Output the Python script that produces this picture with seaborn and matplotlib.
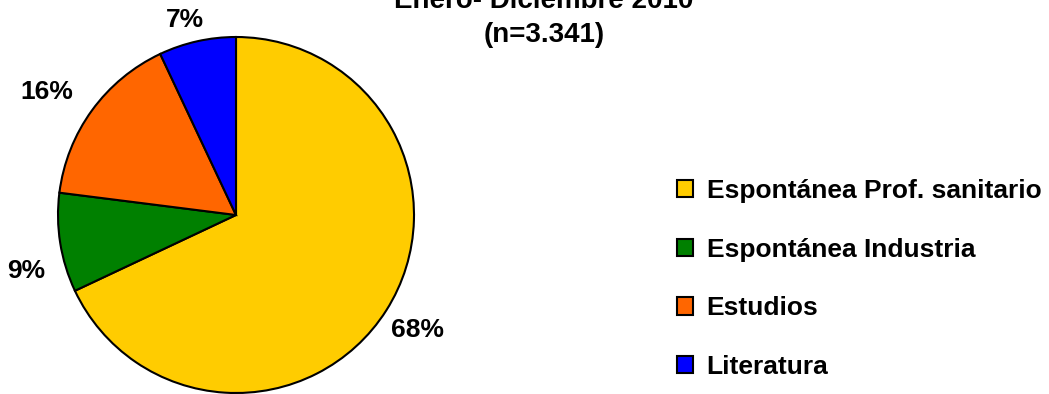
import matplotlib
matplotlib.use("Agg")
import numpy as np
import matplotlib.pyplot as plt
from matplotlib.patches import Patch
import seaborn as sns

# Data
categories = ["Espontánea Prof. sanitario", "Espontánea Industria", "Estudios", "Literatura"]
values = [68, 9, 16, 7]
colors = ["#FFCC00", "#008000", "#FF6600", "#0000FF"]
title_lines = ["Enero- Diciembre 2010", "(n=3.341)"]

# label placement style (radius in pie radii, angle shift in degrees)
label_radius = [1.21, 1.22, 1.27, 1.13]
label_shift = [0, 6, 3, 2]

sns.set_theme(style="white")
plt.rcParams["font.family"] = ["Liberation Sans", "DejaVu Sans"]
plt.rcParams["text.color"] = "black"

W, H = 1049, 394
fig = plt.figure(figsize=(W / 100, H / 100), dpi=100)
fig.patch.set_facecolor("white")

cx, cy, r = 236, 215, 178
ax = fig.add_axes([(cx - r) / W, (H - cy - r) / H, 2 * r / W, 2 * r / H])
wedges, texts, autotexts = ax.pie(
    values,
    colors=colors,
    startangle=90,
    counterclock=False,
    autopct=lambda p: f"{p:.0f}%",
    pctdistance=1.2,
    wedgeprops=dict(edgecolor="black", linewidth=1.5),
    textprops=dict(fontsize=19, fontweight="bold", color="black"),
)
for w, t, lr, sh in zip(wedges, autotexts, label_radius, label_shift):
    mid = np.deg2rad((w.theta1 + w.theta2) / 2 + sh)
    t.set_position((lr * np.cos(mid), lr * np.sin(mid)))
    t.set_clip_on(False)
ax.set_xlim(-1, 1)
ax.set_ylim(-1, 1)
ax.set_aspect("equal")
ax.axis("off")
for w in wedges:
    w.set_clip_on(False)

fig.text(544 / W, 1 - 8 / H, title_lines[0], ha="center", va="baseline",
         fontsize=20, fontweight="bold", color="black")
fig.text(544 / W, 1 - 42 / H, title_lines[1], ha="center", va="baseline",
         fontsize=20, fontweight="bold", color="black")

handles = [Patch(facecolor=c, edgecolor="black", linewidth=1.5) for c in colors]
leg = fig.legend(
    handles, categories,
    loc="center left", bbox_to_anchor=(677 / W, 1 - 279 / H),
    frameon=False, borderpad=0, borderaxespad=0,
    handlelength=0.62, handleheight=0.62, handletextpad=0.5,
    labelspacing=1.31,
    prop=dict(size=19, weight="bold"),
)
for t in leg.get_texts():
    t.set_color("black")

fig.savefig("out.png", dpi=100, facecolor="white")
